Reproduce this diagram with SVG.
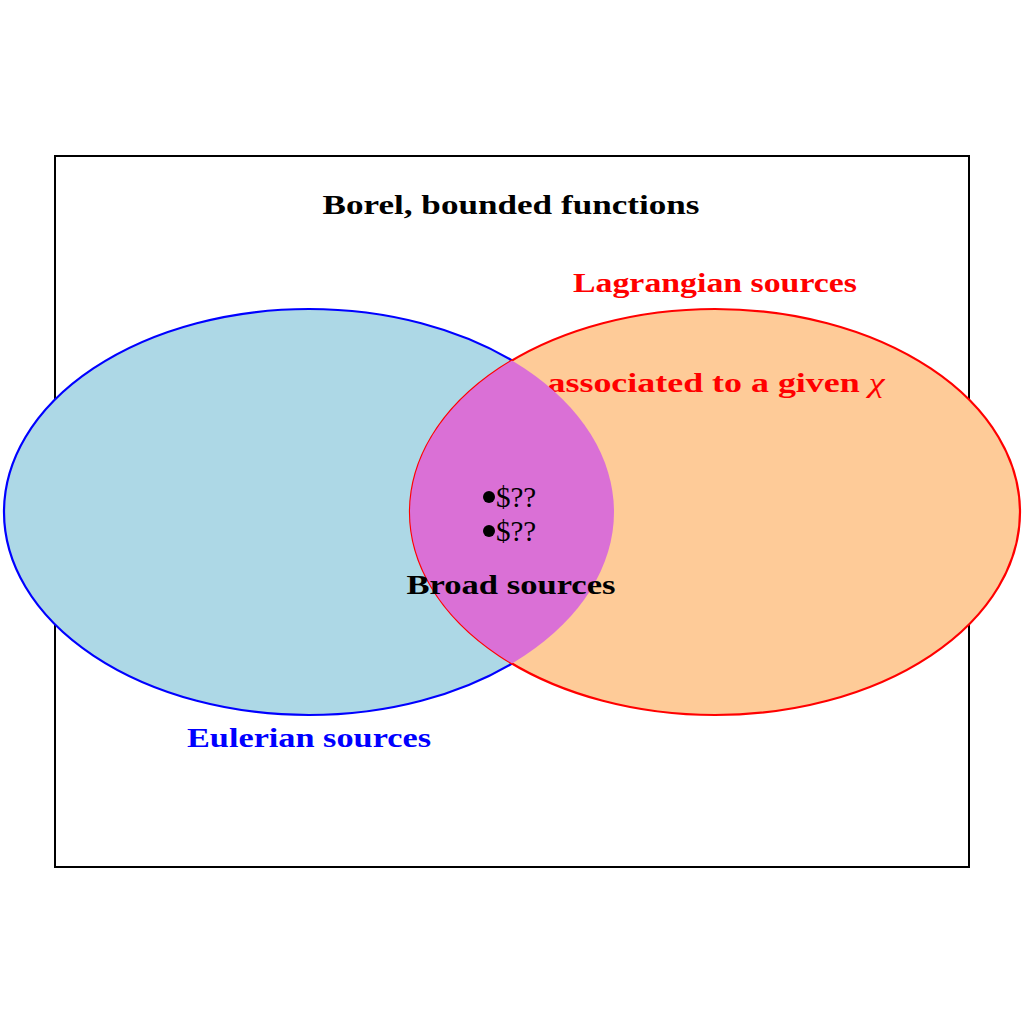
<svg xmlns="http://www.w3.org/2000/svg" width="1024" height="1024" viewBox="0 0 1024 1024">
<style>
.t{font-family:"Liberation Serif","DejaVu Serif",serif;font-weight:bold;font-size:28px;text-anchor:middle}
.m{font-family:"Liberation Serif","DejaVu Serif",serif;font-size:29px}
</style>
<defs>
<clipPath id="cb"><ellipse cx="309" cy="512" rx="305" ry="203"/></clipPath>
</defs>
<rect width="1024" height="1024" fill="#fff"/>
<g id="frame">
<rect x="55" y="156" width="914" height="711" fill="none" stroke="#000" stroke-width="2"/>
<text class="t" x="511" y="214" textLength="377" lengthAdjust="spacingAndGlyphs">Borel, bounded functions</text>
</g>
<g id="eulerian">
<ellipse cx="309" cy="512" rx="305" ry="203" fill="#ADD8E6" stroke="#0000FF" stroke-width="2.2"/>
<text class="t" x="309" y="747" fill="#0000FF" textLength="244" lengthAdjust="spacingAndGlyphs">Eulerian sources</text>
</g>
<g id="lagrangian">
<ellipse cx="715" cy="512" rx="305" ry="203" fill="#FECB98" stroke="#FF0000" stroke-width="2.2"/>
<text class="t" x="715" y="292" fill="#FF0000" textLength="284" lengthAdjust="spacingAndGlyphs">Lagrangian sources</text>
<text class="t" x="716" y="392" fill="#FF0000" textLength="337" lengthAdjust="spacingAndGlyphs">associated to a given <tspan font-style="italic" font-weight="normal">χ</tspan></text>
</g>
<g id="broad">
<ellipse cx="715" cy="512" rx="305" ry="203" fill="#DA70D6" clip-path="url(#cb)"/>
<circle cx="489" cy="497" r="6" fill="#000"/>
<text class="m" x="496" y="507">$??</text>
<circle cx="489" cy="531" r="6" fill="#000"/>
<text class="m" x="496" y="541">$??</text>
<text class="t" x="511" y="594" textLength="209" lengthAdjust="spacingAndGlyphs">Broad sources</text>
</g>
</svg>
